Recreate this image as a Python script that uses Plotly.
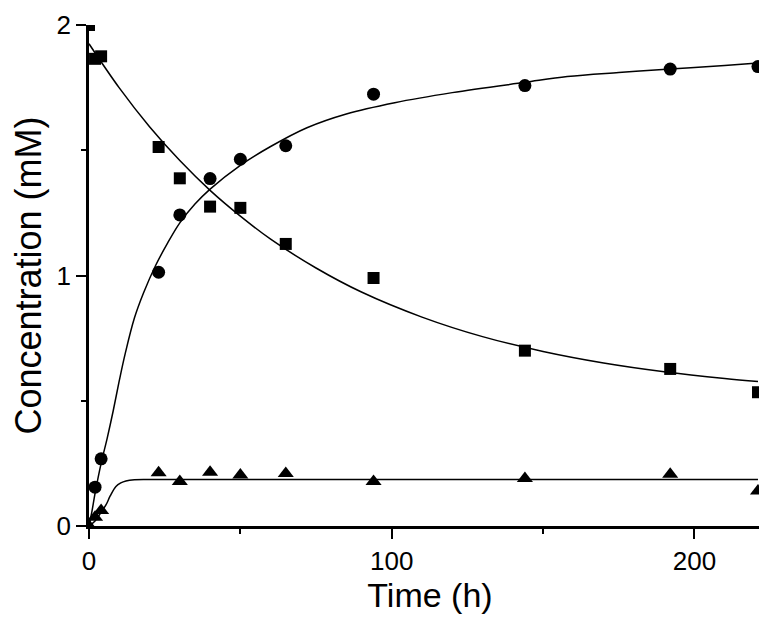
import plotly.graph_objects as go

# Measured data
time_sq = [0, 2, 4, 23, 30, 40, 50, 65, 94, 144, 192, 221]
conc_sq = [2.0, 1.865, 1.875, 1.513, 1.388, 1.275, 1.27, 1.126, 0.99, 0.70, 0.627, 0.534]

time_ci = [2, 4, 23, 30, 40, 50, 65, 94, 144, 192, 221]
conc_ci = [0.155, 0.268, 1.013, 1.242, 1.387, 1.464, 1.518, 1.724, 1.758, 1.824, 1.834]

time_tr = [0, 2, 4, 23, 30, 40, 50, 65, 94, 144, 192, 221]
conc_tr = [0.0, 0.035, 0.062, 0.213, 0.178, 0.215, 0.204, 0.21, 0.178, 0.19, 0.207, 0.14]

# Fitted curves
fit_sq_t = [0, 10, 20, 30, 40, 50, 60, 75, 90, 110, 130, 150, 170, 190, 210, 221]
fit_sq_y = [1.925, 1.749, 1.594, 1.459, 1.340, 1.237, 1.145, 1.030, 0.934, 0.834, 0.756, 0.697, 0.651, 0.616, 0.589, 0.577]

fit_ci_t = [0, 1, 2, 4, 6, 8, 10, 12, 15, 18, 22, 26, 30, 35, 40, 50, 60, 72, 85, 101, 120, 144, 158, 175, 192, 210, 221]
fit_ci_y = [0.0, 0.06, 0.13, 0.25, 0.35, 0.46, 0.58, 0.69, 0.83, 0.93, 1.04, 1.13, 1.21, 1.285, 1.345, 1.44, 1.515, 1.59, 1.645, 1.69, 1.73, 1.771, 1.794, 1.81, 1.824, 1.838, 1.848]

fit_tr_t = [0, 2, 3.4, 5.6, 7, 8.9, 10.5, 12.2, 15, 20, 50, 100, 150, 221]
fit_tr_y = [0.0, 0.02, 0.044, 0.084, 0.12, 0.158, 0.172, 0.18, 0.185, 0.186, 0.186, 0.186, 0.186, 0.186]

FONT = "Liberation Sans, Arial, sans-serif"
line_style = dict(color="black", width=1.5, shape="spline")

fig = go.Figure()
fig.add_trace(go.Scatter(x=fit_sq_t, y=fit_sq_y, mode="lines", line=line_style, hoverinfo="skip"))
fig.add_trace(go.Scatter(x=fit_ci_t, y=fit_ci_y, mode="lines", line=line_style, hoverinfo="skip"))
fig.add_trace(go.Scatter(x=fit_tr_t, y=fit_tr_y, mode="lines", line=line_style, hoverinfo="skip"))

fig.add_trace(go.Scatter(x=time_sq, y=conc_sq, mode="markers",
                         marker=dict(symbol="square", size=12, color="black")))
fig.add_trace(go.Scatter(x=time_ci, y=conc_ci, mode="markers",
                         marker=dict(symbol="circle", size=13, color="black")))
fig.add_trace(go.Scatter(x=time_tr, y=conc_tr, mode="markers",
                         marker=dict(symbol="triangle-up", size=14, color="black")))

axis_common = dict(
    showgrid=False, zeroline=False, showline=True, linecolor="black", linewidth=2.5,
    ticks="outside", ticklen=10, tickwidth=2, tickcolor="black",
    tickfont=dict(family=FONT, size=26, color="black"),
    minor=dict(ticks="outside", ticklen=5, tickwidth=2, tickcolor="black"),
    automargin=False,
)

fig.update_xaxes(range=[0, 225.3], tickvals=[0, 100, 200],
                 minor_tickvals=[50, 150],
                 title=dict(text="Time (h)", font=dict(family=FONT, size=34, color="black"), standoff=5),
                 **axis_common)
fig.update_yaxes(range=[0, 2.0], tickvals=[0, 1, 2],
                 minor_tickvals=[0.5, 1.5],
                 title=dict(text="Concentration (mM)", font=dict(family=FONT, size=36, color="black"), standoff=15),
                 **axis_common)

fig.update_layout(
    width=767, height=619,
    margin=dict(l=81, r=4, t=17, b=101),
    paper_bgcolor="white", plot_bgcolor="white",
    showlegend=False,
)

fig.write_html("out.html")
